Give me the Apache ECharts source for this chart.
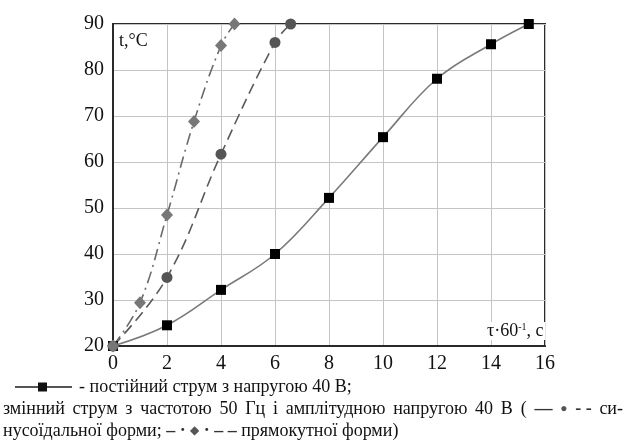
<!DOCTYPE html>
<html><head><meta charset="utf-8">
<script src="https://cdn.jsdelivr.net/npm/echarts@6/dist/echarts.min.js"></script>
<style>html,body{margin:0;padding:0;background:#fff}#c{width:627px;height:447px}</style>
</head><body><div id="c"></div>
<script>
// Data (x: τ·60^-1 c, y: t, °C)
const dcX = [0, 2, 4, 6, 8, 10, 12, 14, 15.4];
const dcY = [20, 24.5, 32.2, 40, 52.2, 65.4, 78.1, 85.6, 90];
const sinX = [0, 2, 4, 6, 6.58];
const sinY = [20, 34.9, 61.7, 86, 90];
const rectX = [0, 1, 2, 3, 4, 4.5];
const rectY = [20, 29.4, 48.5, 68.8, 85.3, 90];
const xTicks = [0, 2, 4, 6, 8, 10, 12, 14, 16];
const yTicks = [20, 30, 40, 50, 60, 70, 80, 90];
const legend1 = '- постійний струм з напругою 40 В;';
const legend2Words = ['змінний', 'струм', 'з', 'частотою', '50', 'Гц', 'і', 'амплітудною', 'напругою', '40', 'В', '(', '—', '●', '- -', 'си-'];
const legend3 = ['нусоїдальної форми;', ' – · ', '◆', ' · – – ', 'прямокутної форми)'];

const pairs = (xs, ys) => xs.map((x, i) => [x, ys[i]]);
const FONT = '"Liberation Serif", "Times New Roman", serif';
const LF = 18;

const cv = document.createElement('canvas').getContext('2d');
function textW(t, size, weight) { cv.font = (weight || 'normal') + ' ' + size + 'px ' + FONT; return cv.measureText(t).width; }
function wordStyle(w) {
  if (w === '—') return { size: LF, weight: 'bold', fill: '#333' };
  if (w === '●') return { size: 12, weight: 'normal', fill: '#555' };
  if (w === '◆') return { size: 12, weight: 'normal', fill: '#555' };
  if (w === '- -' || w === ' – · ' || w === ' · – – ') return { size: LF, weight: 'bold', fill: '#333' };
  return { size: LF, weight: 'normal', fill: '#111' };
}

const graphics = [
  { type: 'text', left: 119, top: 32, z: 10, style: { text: 't,°C', font: '18px ' + FONT, fill: '#111' } },
  { type: 'text', left: 485, top: 322, z: 10, style: {
    text: 'τ·60{s|-1}, c', font: '18px ' + FONT, fill: '#111', backgroundColor: '#fff', padding: [0, 2, 0, 2],
    rich: { s: { fontSize: 10, fontFamily: FONT, verticalAlign: 'top', lineHeight: 10, padding: [0, 0, 8, 0] } }
  } },
  { type: 'line', shape: { x1: 15, y1: 387, x2: 72, y2: 387 }, style: { stroke: '#555', lineWidth: 2 } },
  { type: 'rect', shape: { x: 38, y: 382.5, width: 9, height: 9 }, style: { fill: '#111' } },
  { type: 'text', x: 79, y: 387, style: { text: legend1, font: LF + 'px ' + FONT, fill: '#111', textVerticalAlign: 'middle' } }
];
// justified line 2
(function () {
  const x0 = 3, x1 = 623;
  const ws = legend2Words.map(w => { const s = wordStyle(w); return textW(w, s.size, s.weight); });
  const total = ws.reduce((a, b) => a + b, 0);
  const gap = (x1 - x0 - total) / (legend2Words.length - 1);
  let x = x0;
  legend2Words.forEach((w, i) => {
    const s = wordStyle(w);
    graphics.push({ type: 'text', x: x, y: 409, style: { text: w, font: s.weight + ' ' + s.size + 'px ' + FONT, fill: s.fill, textVerticalAlign: 'middle' } });
    x += ws[i] + gap;
  });
})();
// line 3
(function () {
  let x = 3;
  legend3.forEach(w => {
    const s = wordStyle(w);
    graphics.push({ type: 'text', x: x, y: 431, style: { text: w, font: s.weight + ' ' + s.size + 'px ' + FONT, fill: s.fill, textVerticalAlign: 'middle' } });
    x += textW(w, s.size, s.weight);
  });
})();

const chart = echarts.init(document.getElementById('c'));
chart.setOption({
  backgroundColor: '#fff',
  animation: false,
  grid: { left: 113, right: 82, top: 24, bottom: 101, show: true, borderColor: '#2a2a2a', borderWidth: 2, backgroundColor: 'transparent' },
  xAxis: {
    type: 'value', min: xTicks[0], max: xTicks[xTicks.length - 1], interval: 2,
    axisLine: { show: true, lineStyle: { color: '#2a2a2a', width: 2 } },
    axisTick: { show: false },
    axisLabel: { color: '#111', fontFamily: FONT, fontSize: 20, margin: 8 },
    splitLine: { show: true, lineStyle: { color: '#c4c4c4', width: 1 } }
  },
  yAxis: {
    type: 'value', min: yTicks[0], max: yTicks[yTicks.length - 1], interval: 10,
    axisLine: { show: true, lineStyle: { color: '#2a2a2a', width: 2 } },
    axisTick: { show: false },
    axisLabel: { color: '#111', fontFamily: FONT, fontSize: 20, margin: 9 },
    splitLine: { show: true, lineStyle: { color: '#c4c4c4', width: 1 } }
  },
  series: [
    {
      type: 'line', data: pairs(dcX, dcY), smooth: 0.4, symbol: 'rect', symbolSize: 10,
      lineStyle: { color: '#7a7a7a', width: 1.6 }, itemStyle: { color: '#000' }, z: 5
    },
    {
      type: 'line', data: pairs(sinX, sinY), smooth: 0.4, symbol: 'circle', symbolSize: 11,
      lineStyle: { color: '#5a5a5a', width: 1.6, type: [11, 6] }, itemStyle: { color: '#555' }, z: 5
    },
    {
      type: 'line', data: pairs(rectX, rectY), smooth: 0.4, symbol: 'diamond', symbolSize: [12, 13],
      lineStyle: { color: '#6a6a6a', width: 1.6, type: [12, 5, 2, 5] }, itemStyle: { color: '#777' }, z: 5
    }
  ],
  graphic: graphics
});
</script></body></html>
